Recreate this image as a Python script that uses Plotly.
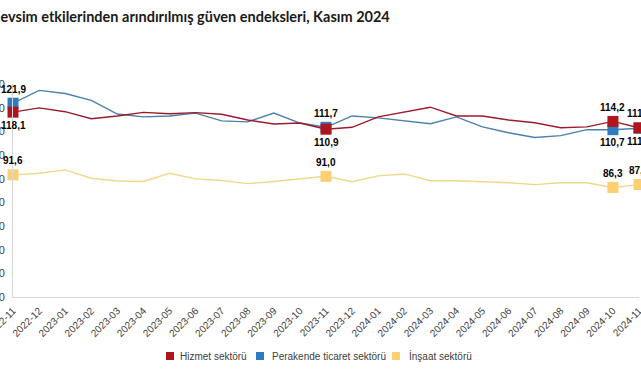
import plotly.graph_objects as go

months = ["2022-11", "2022-12", "2023-01", "2023-02", "2023-03", "2023-04", "2023-05",
          "2023-06", "2023-07", "2023-08", "2023-09", "2023-10", "2023-11", "2023-12",
          "2024-01", "2024-02", "2024-03", "2024-04", "2024-05", "2024-06", "2024-07",
          "2024-08", "2024-09", "2024-10", "2024-11"]

hizmet = [118.1, 119.9, 118.3, 115.3, 116.5, 118.0, 117.4, 117.9, 117.2, 114.8, 113.1, 113.5,
          110.9, 111.7, 116.1, 118.2, 120.2, 116.5, 116.5, 114.8, 113.6, 111.5, 111.9, 114.2, 111.5]
perakende = [121.9, 127.3, 126.0, 123.1, 117.3, 116.1, 116.5, 117.7, 114.4, 114.0, 117.7, 113.5,
             111.7, 116.5, 115.7, 114.4, 113.2, 116.1, 111.9, 109.4, 107.4, 108.2, 110.7, 110.7, 111.3]
insaat = [91.6, 92.3, 93.7, 90.2, 89.0, 88.8, 92.3, 89.9, 89.2, 87.9, 88.8, 89.9,
          91.0, 88.7, 91.2, 92.0, 89.1, 89.1, 88.7, 88.3, 87.5, 88.3, 88.3, 86.3, 87.5]

series_names = ["Hizmet sektörü", "Perakende ticaret sektörü", "İnşaat sektörü"]
marker_idx = [0, 12, 23, 24]
y_ticks = [40, 50, 60, 70, 80, 90, 100, 110, 120, 130]
title_text = "Mevsim etkilerinden arındırılmış güven endeksleri, Kasım 2024"

line_colors = {"h": "#9b1c2c", "p": "#4a80ad", "i": "#f3d68e"}
mark_colors = {"h": "#b0141c", "p": "#2f7bc0", "i": "#fbcf72"}

W, H = 641, 380
ML, MR, MT, MB = 13, 2, 84, 83
PW, PH = W - ML - MR, H - MT - MB

fig = go.Figure()

data = [("p", perakende), ("h", hizmet), ("i", insaat)]
for key, vals in data:
    fig.add_trace(go.Scatter(x=months, y=vals, mode="lines", line=dict(color=line_colors[key], width=1.4),
                             showlegend=False, hoverinfo="skip"))
for key, vals in data:
    fig.add_trace(go.Scatter(x=[months[i] for i in marker_idx], y=[vals[i] for i in marker_idx],
                             mode="markers", marker=dict(symbol="square", size=11, color=mark_colors[key]),
                             showlegend=False, cliponaxis=False, hoverinfo="skip"))

def fmt(v):
    return f"{v:.1f}".replace(".", ",")

label_font = dict(family="Liberation Sans, Arial", size=10, color="#000000")
ann = []
specs = [(perakende, 0, 14), (hizmet, 0, -13), (insaat, 0, 14),
         (perakende, 12, 14), (hizmet, 12, -13), (insaat, 12, 14),
         (hizmet, 23, 14), (perakende, 23, -13), (insaat, 23, 14),
         (hizmet, 24, 14), (perakende, 24, -13), (insaat, 24, 14)]
for vals, i, ys in specs:
    ann.append(dict(x=months[i], y=vals[i], text="<b>" + fmt(vals[i]) + "</b>", showarrow=False,
                    yshift=ys, font=label_font))

# title (left edge of the chart is cropped in the reference)
ann.append(dict(x=(-15.5 - ML) / PW, y=(H - MT - 15) / PH, xref="paper", yref="paper",
                xanchor="left", yanchor="middle",
                text="<b>" + title_text + "</b>", showarrow=False,
                font=dict(family="Lato, Open Sans", size=14.5, color="#1a1a1a")))

# manual legend
legend_items = [(series_names[0], "h", 170, 178), (series_names[1], "p", 260, 270), (series_names[2], "i", 396, 407)]
shapes = []
ly = 356
for name, key, sx, tx in legend_items:
    shapes.append(dict(type="rect", xref="paper", yref="paper",
                       x0=(sx - 4 - ML) / PW, x1=(sx + 4 - ML) / PW,
                       y0=(H - MB - (ly + 4)) / PH, y1=(H - MB - (ly - 4)) / PH,
                       fillcolor=mark_colors[key], line=dict(width=0)))
    ann.append(dict(x=(tx - ML) / PW, y=(H - MB - ly) / PH, xref="paper", yref="paper",
                    xanchor="left", yanchor="middle", text=name, showarrow=False,
                    font=dict(family="Liberation Sans, Arial", size=10, color="#404040")))

fig.update_layout(
    width=W, height=H,
    margin=dict(l=ML, r=MR, t=MT, b=MB, autoexpand=False),
    paper_bgcolor="white", plot_bgcolor="white",
    annotations=ann, shapes=shapes,
    showlegend=False,
)
fig.update_xaxes(type="category", range=[0, 24], showgrid=False, showline=True, linecolor="#d9d9d9",
                 linewidth=1, tickangle=-45, ticks="", zeroline=False, automargin=False,
                 ticklabelstandoff=3,
                 tickfont=dict(family="Liberation Sans, Arial", size=10, color="#404040"))
fig.update_yaxes(range=[40, 130], tickvals=y_ticks, showgrid=False, showline=True, linecolor="#d9d9d9",
                 linewidth=1, ticks="", zeroline=False, ticklabelstandoff=5, automargin=False,
                 tickfont=dict(family="Liberation Sans, Arial", size=11, color="#404040"))

fig.write_html("out.html", config={"displayModeBar": False},
               post_script="document.body.style.margin='0';document.body.style.overflow='hidden';")
